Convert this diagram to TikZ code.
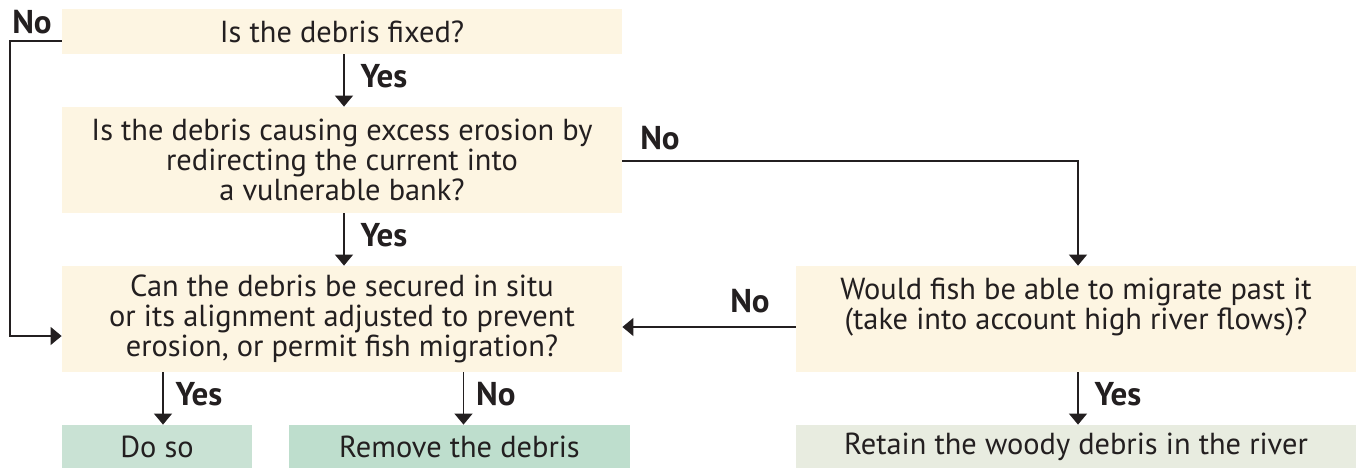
\documentclass[tikz,border=0pt]{standalone}
\usepackage{fontspec}
\setmainfont{PT Sans}
\usetikzlibrary{arrows.meta}
\usetikzlibrary{calc}

\definecolor{cream}{RGB}{253,245,226}
\definecolor{sogreen}{RGB}{201,226,212}
\definecolor{rmgreen}{RGB}{190,222,205}
\definecolor{keepgrey}{RGB}{232,236,224}
\definecolor{ink}{RGB}{35,31,32}

\begin{document}
\begin{tikzpicture}[x=0.5pt, y=-0.5pt,
	question/.style={fill=cream, text=ink, inner sep=0pt, align=center,
		font=\fontsize{15.2}{15}\selectfont, minimum width=280pt},
	answer/.style={inner sep=0pt, text=ink, minimum height=21.5pt,
		font=\fontsize{15.2}{15}\selectfont},
	flow/.style={draw=ink, line width=0.6pt, -{Triangle[width=9pt,length=5.5pt]}},
	lbl/.style={text=ink, inner sep=2pt, font=\fontsize{16.5}{15}\bfseries\selectfont}]
	\useasboundingbox (0,0) rectangle (1360,468);

	% Questions
	\node[question, minimum height=22.5pt] (fixed) at (342,31.5) {Is the debris fixed?};
	\node[question, minimum height=53pt] (erosion) at (342,160)
		{Is the debris causing excess erosion by\\ redirecting the current into\\ a vulnerable bank?};
	\node[question, minimum height=53pt] (secure) at (342,319)
		{Can the debris be secured in situ\\ or its alignment adjusted to prevent\\ erosion, or permit fish migration?};
	\node[question, minimum height=53pt] (migrate) at (1076,319)
		{Would fish be able to migrate past it\\ (take into account high river flows)?\\ \mbox{}};

	% Outcomes
	\node[answer, fill=sogreen, minimum width=95pt] (doso) at (157,446.5) {Do so};
	\node[answer, fill=rmgreen, minimum width=170.5pt] (remove) at (459.5,446.5) {Remove the debris};
	\node[answer, fill=keepgrey, minimum width=280pt] (retain) at (1076,446.5) {Retain the woody debris in the river};

	% Yes branches
	\draw[flow] ([xshift=1pt]fixed.south) -- ([xshift=1pt]erosion.north) node[lbl, midway, right, xshift=6pt, yshift=2pt] {Yes};
	\draw[flow] ([xshift=1pt]erosion.south) -- ([xshift=1pt]secure.north) node[lbl, midway, right, xshift=6pt, yshift=2pt] {Yes};
	\draw[flow] ([xshift=3pt]secure.south -| doso.north) -- ([xshift=3pt]doso.north) node[lbl, midway, right, xshift=4pt, yshift=2pt] {Yes};
	\draw[flow] ([xshift=1pt]migrate.south) -- ([xshift=1pt]retain.north) node[lbl, midway, right, xshift=6pt, yshift=2pt] {Yes};

	% No branches
	\coordinate (nocorner) at (10,41);
	\draw[flow] (nocorner -| fixed.west) -- (nocorner) |- ([yshift=-8.5pt]secure.west);
	\node[lbl, inner sep=0pt] (nofixed) at (32,22) {No};
	\draw[flow] ([yshift=-0.5pt]erosion.east) -| ([xshift=1pt]migrate.north);
	\node[lbl, inner sep=0pt] (noerosion) at (660,138) {No};
	\draw[flow] ([yshift=-4pt]migrate.west) -- ([yshift=-4pt]secure.east);
	\node[lbl, inner sep=0pt] (nomigrate) at (750,301) {No};
	\draw[flow] ([xshift=2pt]secure.south -| remove.north) -- ([xshift=2pt]remove.north) node[lbl, midway, right, xshift=4pt, yshift=2pt] {No};
\end{tikzpicture}
\end{document}
